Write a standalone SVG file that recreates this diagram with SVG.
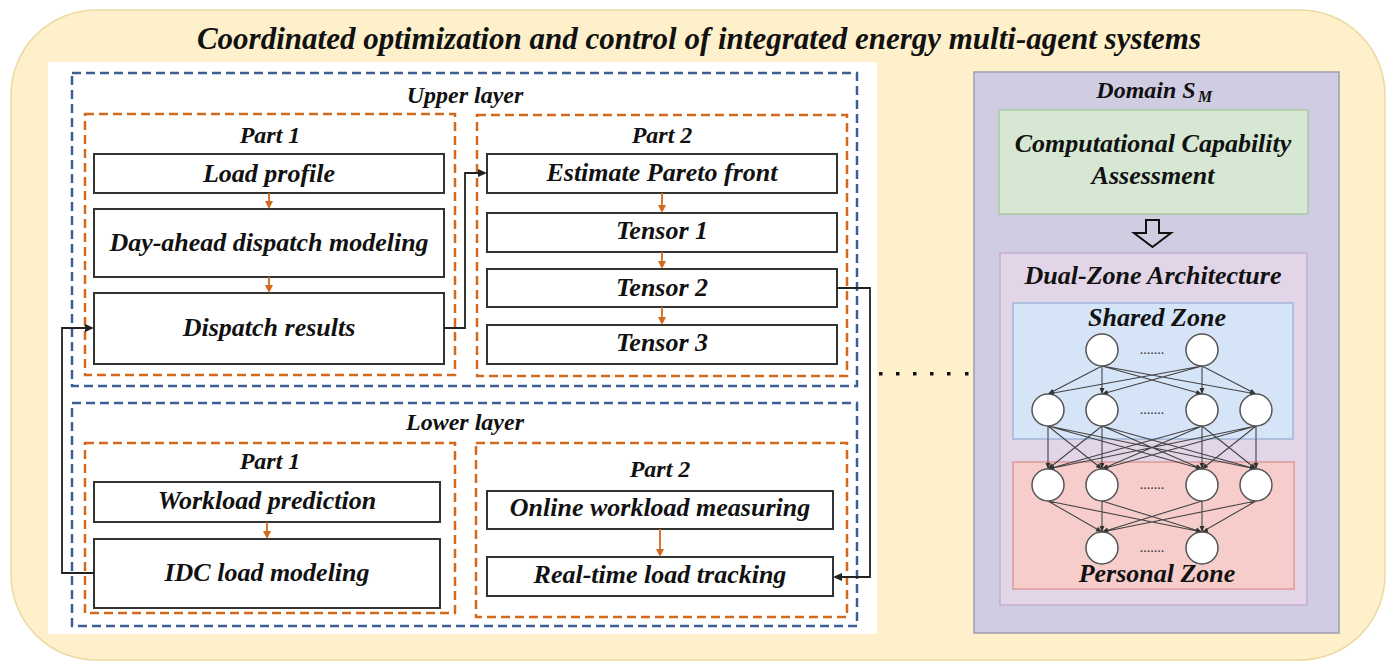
<svg xmlns="http://www.w3.org/2000/svg" width="1387" height="663" viewBox="0 0 1387 663">
<defs>
<style>
.t{font-family:'Liberation Serif','Times New Roman',serif;font-weight:bold;font-style:italic;fill:#111;text-anchor:middle;font-size:31px;}
.lay{font-family:'Liberation Serif','Times New Roman',serif;font-weight:bold;font-style:italic;fill:#111;text-anchor:middle;font-size:24px;}
.part{font-family:'Liberation Serif','Times New Roman',serif;font-weight:bold;font-style:italic;fill:#111;text-anchor:middle;font-size:24px;}
.bt{font-family:'Liberation Serif','Times New Roman',serif;font-weight:bold;font-style:italic;fill:#111;text-anchor:middle;font-size:26px;}
.dots{font-family:'Liberation Serif','Times New Roman',serif;font-size:14px;fill:#333;text-anchor:middle;}
.box{fill:#fff;stroke:#333;stroke-width:2;}
.blue{fill:none;stroke:#3d5f96;stroke-width:2.5;stroke-dasharray:9,5;}
.orange{fill:none;stroke:#d2691e;stroke-width:2.5;stroke-dasharray:9,5;}
.oa{stroke:#d2691e;stroke-width:1.8;fill:none;}
.oh{fill:#d2691e;}
.ka{stroke:#222;stroke-width:1.8;fill:none;}
.kh{fill:#222;}
.ne{stroke:#444;stroke-width:1.1;fill:none;}
.nh{fill:#333;}
.nd{fill:#fff;stroke:#555;stroke-width:1.5;}
</style>
</defs>

<g id="background">
<rect x="11" y="10" width="1374" height="650" rx="85" ry="85" fill="#fdf0cb" stroke="#ecd9a0" stroke-width="1.5"/>
<text class="t" x="699" y="49">Coordinated optimization and control of integrated energy multi-agent systems</text>
<rect x="48" y="62" width="829" height="572" fill="#fff"/>
</g>

<g id="upper-layer">
<rect class="blue" x="72" y="73" width="785" height="313"/>
<text class="lay" x="465" y="103">Upper layer</text>
</g>
<g id="upper-part1">
<rect class="orange" x="85" y="114" width="370" height="261"/>
<text class="part" x="270" y="143">Part 1</text>
</g>
<g id="upper-part2">
<rect class="orange" x="477" y="115" width="370" height="261"/>
<text class="part" x="662" y="143">Part 2</text>
</g>
<g id="load-profile"><rect class="box" x="94" y="154" width="350" height="39"/><text class="bt" x="269" y="182">Load profile</text></g>
<g id="day-ahead"><rect class="box" x="94" y="209" width="350" height="68"/><text class="bt" x="269" y="251">Day-ahead dispatch modeling</text></g>
<g id="dispatch-results"><rect class="box" x="94" y="293" width="350" height="71"/><text class="bt" x="269" y="336">Dispatch results</text></g>
<g id="estimate-pareto"><rect class="box" x="487" y="154" width="350" height="39"/><text class="bt" x="662" y="181">Estimate Pareto front</text></g>
<g id="tensor1"><rect class="box" x="487" y="213" width="350" height="39"/><text class="bt" x="662" y="239">Tensor 1</text></g>
<g id="tensor2"><rect class="box" x="487" y="269" width="350" height="38"/><text class="bt" x="662" y="296">Tensor 2</text></g>
<g id="tensor3"><rect class="box" x="487" y="325" width="350" height="39"/><text class="bt" x="662" y="351">Tensor 3</text></g>

<g id="lower-layer">
<rect class="blue" x="72" y="403" width="785" height="223"/>
<text class="lay" x="465" y="430">Lower layer</text>
</g>
<g id="lower-part1">
<rect class="orange" x="85" y="443" width="370" height="170"/>
<text class="part" x="270" y="469">Part 1</text>
</g>
<g id="lower-part2">
<rect class="orange" x="476" y="443" width="371" height="174"/>
<text class="part" x="660" y="477">Part 2</text>
</g>
<g id="workload-prediction"><rect class="box" x="94" y="482" width="346" height="40"/><text class="bt" x="267" y="509">Workload prediction</text></g>
<g id="idc-load"><rect class="box" x="94" y="539" width="346" height="69"/><text class="bt" x="267" y="581">IDC load modeling</text></g>
<g id="online-workload"><rect class="box" x="487" y="491" width="346" height="38"/><text class="bt" x="660" y="516">Online workload measuring</text></g>
<g id="real-time"><rect class="box" x="487" y="557" width="346" height="39"/><text class="bt" x="660" y="583">Real-time load tracking</text></g>

<g id="connectors">
<path class="oa" d="M269,193 V203 M269,277 V287 M662,193 V207 M662,252 V263 M662,307 V319 M267,522 V533 M660,529 V551"/>
<path class="oh" d="M265,201 H273 L269,209 Z M265,285 H273 L269,293 Z M658,205 H666 L662,213 Z M658,261 H666 L662,269 Z M658,317 H666 L662,325 Z M263,531 H271 L267,539 Z M656,549 H664 L660,557 Z"/>
<path class="ka" d="M444,328 H465 V173 H480 M837,288 H870 V577 H840 M94,573 H62 V328 H87"/>
<path class="kh" d="M478,169 L487,173 L478,177 Z M842,573 L833,577 L842,581 Z M85,324 L94,328 L85,332 Z"/>
<g fill="#111">
<rect x="879" y="372" width="3.5" height="3.5"/>
<rect x="896" y="372" width="3.5" height="3.5"/>
<rect x="913" y="372" width="3.5" height="3.5"/>
<rect x="930" y="372" width="3.5" height="3.5"/>
<rect x="947" y="372" width="3.5" height="3.5"/>
<rect x="965" y="372" width="3.5" height="3.5"/>
</g>
</g>

<g id="domain">
<rect x="974" y="72" width="365" height="561" fill="#d0cde2" stroke="#9e9caf" stroke-width="1.5"/>
<text class="lay" x="1146" y="98">Domain S</text>
<text class="lay" x="1205" y="102" style="font-size:16px">M</text>
</g>
<g id="capability">
<rect x="999" y="110" width="309" height="104" fill="#d6e8d3" stroke="#a9c7a0" stroke-width="1.5"/>
<text class="bt" x="1153" y="152">Computational Capability</text>
<text class="bt" x="1153" y="184">Assessment</text>
</g>
<g id="hollow-arrow">
<path d="M1146,220 L1159,220 L1159,233 L1171,233 L1152.5,247 L1134,233 L1146,233 Z" fill="none" stroke="#111" stroke-width="2"/>
</g>
<g id="dual-zone">
<rect x="1000" y="253" width="307" height="352" fill="#e1d5e7" stroke="#c2aed0" stroke-width="1.5"/>
<text class="bt" x="1153" y="284">Dual-Zone Architecture</text>
</g>
<g id="shared-zone">
<rect x="1013" y="303" width="280" height="136" fill="#d6e4f8" stroke="#9fb6da" stroke-width="1.5"/>
<text class="bt" x="1157" y="326">Shared Zone</text>
</g>
<g id="personal-zone">
<rect x="1013" y="462" width="281" height="127" fill="#f7cdcc" stroke="#dc9b98" stroke-width="1.5"/>
<text class="bt" x="1157" y="582">Personal Zone</text>
</g>

<g id="nn-edges">
<path class="ne" d="M1102,366 L1048,394 M1102,366 L1102,394 M1102,366 L1202,394 M1102,366 L1256,394 M1202,366 L1048,394 M1202,366 L1102,394 M1202,366 L1202,394 M1202,366 L1256,394"/>
<path class="ne" d="M1048,426 L1048,469 M1048,426 L1102,469 M1048,426 L1202,469 M1048,426 L1256,469 M1102,426 L1048,469 M1102,426 L1102,469 M1102,426 L1202,469 M1102,426 L1256,469 M1202,426 L1048,469 M1202,426 L1102,469 M1202,426 L1202,469 M1202,426 L1256,469 M1256,426 L1048,469 M1256,426 L1102,469 M1256,426 L1202,469 M1256,426 L1256,469"/>
<path class="ne" d="M1048,501 L1102,532 M1048,501 L1202,532 M1102,501 L1102,532 M1102,501 L1202,532 M1202,501 L1102,532 M1202,501 L1202,532 M1256,501 L1102,532 M1256,501 L1202,532"/>
<g class="nh">
<path d="M0,0 L-6,-2.5 L-6,2.5 Z" transform="translate(1048,394) rotate(152.59)"/>
<path d="M0,0 L-6,-2.5 L-6,2.5 Z" transform="translate(1102,394) rotate(90)"/>
<path d="M0,0 L-6,-2.5 L-6,2.5 Z" transform="translate(1202,394) rotate(15.64)"/>
<path d="M0,0 L-6,-2.5 L-6,2.5 Z" transform="translate(1256,394) rotate(10.30)"/>
<path d="M0,0 L-6,-2.5 L-6,2.5 Z" transform="translate(1048,394) rotate(169.70)"/>
<path d="M0,0 L-6,-2.5 L-6,2.5 Z" transform="translate(1102,394) rotate(164.36)"/>
<path d="M0,0 L-6,-2.5 L-6,2.5 Z" transform="translate(1202,394) rotate(90)"/>
<path d="M0,0 L-6,-2.5 L-6,2.5 Z" transform="translate(1256,394) rotate(27.41)"/>

<path d="M0,0 L-6,-2.5 L-6,2.5 Z" transform="translate(1048,469) rotate(90)"/>
<path d="M0,0 L-6,-2.5 L-6,2.5 Z" transform="translate(1102,469) rotate(38.53)"/>
<path d="M0,0 L-6,-2.5 L-6,2.5 Z" transform="translate(1202,469) rotate(15.60)"/>
<path d="M0,0 L-6,-2.5 L-6,2.5 Z" transform="translate(1256,469) rotate(11.68)"/>
<path d="M0,0 L-6,-2.5 L-6,2.5 Z" transform="translate(1048,469) rotate(141.47)"/>
<path d="M0,0 L-6,-2.5 L-6,2.5 Z" transform="translate(1102,469) rotate(90)"/>
<path d="M0,0 L-6,-2.5 L-6,2.5 Z" transform="translate(1202,469) rotate(23.27)"/>
<path d="M0,0 L-6,-2.5 L-6,2.5 Z" transform="translate(1256,469) rotate(15.60)"/>
<path d="M0,0 L-6,-2.5 L-6,2.5 Z" transform="translate(1048,469) rotate(164.40)"/>
<path d="M0,0 L-6,-2.5 L-6,2.5 Z" transform="translate(1102,469) rotate(156.73)"/>
<path d="M0,0 L-6,-2.5 L-6,2.5 Z" transform="translate(1202,469) rotate(90)"/>
<path d="M0,0 L-6,-2.5 L-6,2.5 Z" transform="translate(1256,469) rotate(38.53)"/>
<path d="M0,0 L-6,-2.5 L-6,2.5 Z" transform="translate(1048,469) rotate(168.32)"/>
<path d="M0,0 L-6,-2.5 L-6,2.5 Z" transform="translate(1102,469) rotate(164.40)"/>
<path d="M0,0 L-6,-2.5 L-6,2.5 Z" transform="translate(1202,469) rotate(141.47)"/>
<path d="M0,0 L-6,-2.5 L-6,2.5 Z" transform="translate(1256,469) rotate(90)"/>

<path d="M0,0 L-6,-2.5 L-6,2.5 Z" transform="translate(1102,532) rotate(29.86)"/>
<path d="M0,0 L-6,-2.5 L-6,2.5 Z" transform="translate(1202,532) rotate(11.38)"/>
<path d="M0,0 L-6,-2.5 L-6,2.5 Z" transform="translate(1102,532) rotate(90)"/>
<path d="M0,0 L-6,-2.5 L-6,2.5 Z" transform="translate(1202,532) rotate(17.22)"/>
<path d="M0,0 L-6,-2.5 L-6,2.5 Z" transform="translate(1102,532) rotate(162.78)"/>
<path d="M0,0 L-6,-2.5 L-6,2.5 Z" transform="translate(1202,532) rotate(90)"/>
<path d="M0,0 L-6,-2.5 L-6,2.5 Z" transform="translate(1102,532) rotate(168.62)"/>
<path d="M0,0 L-6,-2.5 L-6,2.5 Z" transform="translate(1202,532) rotate(162.78)"/>
</g>
</g>

<g id="nn-nodes">
<circle class="nd" cx="1102" cy="350" r="16"/>
<circle class="nd" cx="1202" cy="350" r="16"/>
<circle class="nd" cx="1048" cy="410" r="16"/>
<circle class="nd" cx="1102" cy="410" r="16"/>
<circle class="nd" cx="1202" cy="410" r="16"/>
<circle class="nd" cx="1256" cy="410" r="16"/>
<circle class="nd" cx="1048" cy="485" r="16"/>
<circle class="nd" cx="1102" cy="485" r="16"/>
<circle class="nd" cx="1202" cy="485" r="16"/>
<circle class="nd" cx="1256" cy="485" r="16"/>
<circle class="nd" cx="1102" cy="548" r="16"/>
<circle class="nd" cx="1202" cy="548" r="16"/>
<text class="dots" x="1152" y="354">.......</text>
<text class="dots" x="1152" y="414">.......</text>
<text class="dots" x="1152" y="489">.......</text>
<text class="dots" x="1152" y="552">.......</text>
</g>
</svg>
